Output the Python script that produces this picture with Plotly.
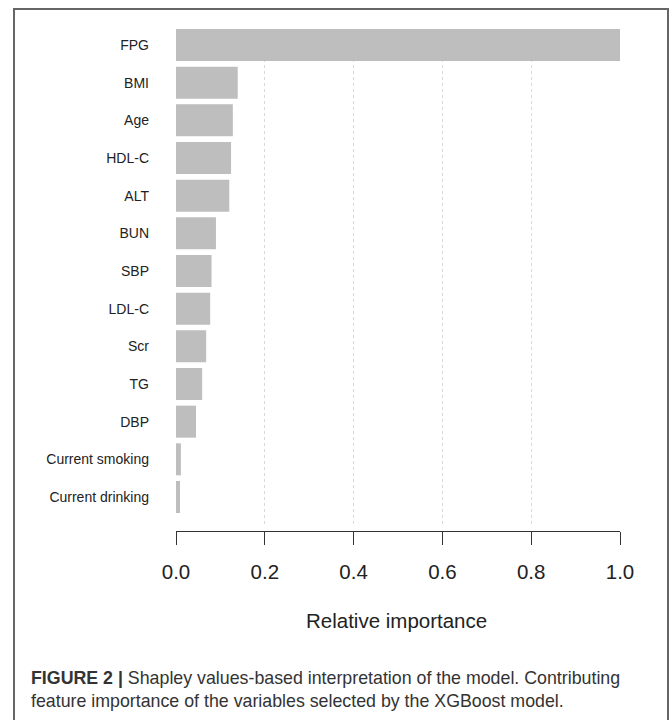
import plotly.graph_objects as go

features = ["FPG", "BMI", "Age", "HDL-C", "ALT", "BUN", "SBP", "LDL-C",
            "Scr", "TG", "DBP", "Current smoking", "Current drinking"]
importance = [1.0, 0.139, 0.128, 0.124, 0.120, 0.090, 0.080, 0.077,
              0.068, 0.059, 0.045, 0.011, 0.009]
x_ticks = [0.0, 0.2, 0.4, 0.6, 0.8, 1.0]
x_tick_labels = ["0.0", "0.2", "0.4", "0.6", "0.8", "1.0"]

W, H = 669, 720
def px_x(p):
    return p / W
def px_y(p):
    return 1 - p / H

fig = go.Figure(go.Bar(
    x=importance, y=features, orientation="h",
    marker=dict(color="#bebebe", line=dict(width=0)),
    width=0.85,
))

font_family = "Liberation Sans, Arial, Helvetica, sans-serif"

fig.update_layout(
    template="none",
    width=W, height=H,
    margin=dict(l=0, r=0, t=0, b=0, pad=0, autoexpand=False),
    paper_bgcolor="white", plot_bgcolor="white",
    showlegend=False,
    font=dict(family=font_family, color="#222222"),
    xaxis=dict(
        domain=[px_x(176), px_x(620)],
        range=[0, 1],
        tickvals=x_ticks, ticktext=x_tick_labels,
        tickfont=dict(size=20.5, color="#222222"),
        ticks="outside", ticklen=13, tickcolor="#333333", tickwidth=1,
        showline=True, linecolor="#333333", linewidth=1,
        showgrid=True, gridcolor="#d9d9d9", griddash="dot", gridwidth=1,
        zeroline=False, automargin=False,
        anchor="free", position=px_y(531),
        ticklabelstandoff=9,
    ),
    yaxis=dict(
        domain=[px_y(524), px_y(29)],
        type="category",
        categoryorder="array", categoryarray=features,
        range=[12.717, -0.425],
        tickfont=dict(size=14, color="#222222"),
        showline=False, showgrid=False, zeroline=False, automargin=False,
        ticks="", ticklabelstandoff=26,
    ),
)

# axis title
fig.add_annotation(
    x=px_x(396), y=px_y(620), xref="paper", yref="paper",
    text="Relative importance", showarrow=False,
    font=dict(size=20.5, color="#222222", family=font_family),
    xanchor="center", yanchor="middle",
)

# caption
fig.add_annotation(
    x=px_x(29), y=px_y(678), xref="paper", yref="paper",
    text="<b>FIGURE 2 |</b> Shapley values-based interpretation of the model. Contributing",
    showarrow=False, xanchor="left", yanchor="middle", align="left",
    font=dict(size=17.8, color="#333333", family=font_family),
)
fig.add_annotation(
    x=px_x(29), y=px_y(701), xref="paper", yref="paper",
    text="feature importance of the variables selected by the XGBoost model.",
    showarrow=False, xanchor="left", yanchor="middle", align="left",
    font=dict(size=17.8, color="#333333", family=font_family),
)

# outer frame
fig.add_shape(
    type="rect", xref="paper", yref="paper",
    x0=px_x(14), x1=px_x(668), y0=px_y(740), y1=px_y(9),
    line=dict(color="#666666", width=2), fillcolor="rgba(0,0,0,0)",
    layer="above",
)

fig.write_html("out.html")
